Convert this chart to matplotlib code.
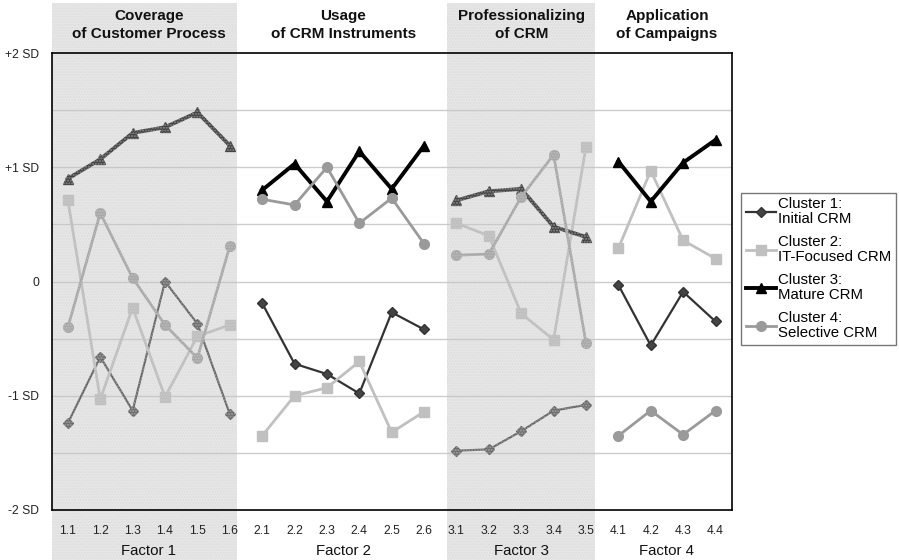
import matplotlib
matplotlib.use("Agg")
import matplotlib.pyplot as plt
import matplotlib.transforms as mtransforms
from matplotlib.patches import Rectangle
import numpy as np

plt.rcParams['font.family'] = ['Liberation Sans', 'DejaVu Sans']

# Items of the four CRM factors
factor_items = [
    ["1.1", "1.2", "1.3", "1.4", "1.5", "1.6"],
    ["2.1", "2.2", "2.3", "2.4", "2.5", "2.6"],
    ["3.1", "3.2", "3.3", "3.4", "3.5"],
    ["4.1", "4.2", "4.3", "4.4"],
]
factor_names = ["Factor 1", "Factor 2", "Factor 3", "Factor 4"]
factor_titles = ["Coverage\nof Customer Process", "Usage\nof CRM Instruments",
                 "Professionalizing\nof CRM", "Application\nof Campaigns"]

# Standardised cluster means (in SD units), one value per item
cluster1 = [-1.24, -0.66, -1.13, 0.00, -0.37, -1.16,
            -0.19, -0.72, -0.81, -0.98, -0.27, -0.42,
            -1.48, -1.47, -1.31, -1.13, -1.08,
            -0.03, -0.56, -0.09, -0.35]
cluster2 = [0.71, -1.03, -0.23, -1.01, -0.48, -0.38,
            -1.35, -1.00, -0.93, -0.70, -1.32, -1.14,
            0.51, 0.40, -0.28, -0.51, 1.18,
            0.29, 0.97, 0.36, 0.20]
cluster3 = [0.90, 1.07, 1.30, 1.35, 1.48, 1.19,
            0.80, 1.03, 0.70, 1.14, 0.81, 1.19,
            0.71, 0.79, 0.81, 0.48, 0.39,
            1.05, 0.70, 1.04, 1.24]
cluster4 = [-0.40, 0.60, 0.03, -0.38, -0.67, 0.31,
            0.72, 0.67, 1.00, 0.51, 0.73, 0.33,
            0.23, 0.24, 0.74, 1.11, -0.54,
            -1.35, -1.13, -1.34, -1.13]

clusters = [
    ("Cluster 1:\nInitial CRM", cluster1, dict(color="#333333", lw=1.6, marker="D", ms=5, mfc="#444444", mec="#333333")),
    ("Cluster 2:\nIT-Focused CRM", cluster2, dict(color="#c0c0c0", lw=2.0, marker="s", ms=6.5, mfc="#c0c0c0", mec="#c0c0c0")),
    ("Cluster 3:\nMature CRM", cluster3, dict(color="#000000", lw=2.8, marker="^", ms=7, mfc="#000000", mec="#000000")),
    ("Cluster 4:\nSelective CRM", cluster4, dict(color="#9a9a9a", lw=2.0, marker="o", ms=7, mfc="#9a9a9a", mec="#9a9a9a")),
]

W, H = 899, 560
fig = plt.figure(figsize=(W / 100, H / 100), dpi=100)
ax = fig.add_axes([51.7 / W, 1 - 510 / H, 680 / W, 457 / H])

labels = [it for grp in factor_items for it in grp]
n = len(labels)
ax.set_xlim(-0.5, n - 0.5)
ax.set_ylim(-2, 2)

# light horizontal grid at every half SD
for yv in np.arange(-1.5, 1.51, 0.5):
    ax.axhline(yv, color="#cccccc", lw=1.0, zorder=1)

# one broken polyline per factor for each cluster
starts = np.cumsum([0] + [len(g) for g in factor_items])
for name, vals, style in clusters:
    for k in range(len(factor_items)):
        idx = np.arange(starts[k], starts[k + 1])
        ax.plot(idx, np.asarray(vals)[idx], zorder=3, clip_on=False,
                label=name if k == 0 else None, **style)

ax.set_xticks(range(n))
ax.set_xticklabels(labels, fontsize=8.7, color="#222222")
ax.set_yticks([-2, -1, 0, 1, 2])
ax.set_yticklabels(["-2 SD", "-1 SD", "0", "+1 SD", "+2 SD"], fontsize=8.7, color="#222222")
ax.tick_params(axis="x", length=0, pad=11)
ax.tick_params(axis="y", length=0, pad=9)
for sp in ax.spines.values():
    sp.set_color("black")
    sp.set_linewidth(1.2)
    sp.set_zorder(6)
ax.xaxis.set_zorder(6)
ax.yaxis.set_zorder(6)

# shaded bands behind factors 1 and 3, spanning the full figure height
band_tr = mtransforms.blended_transform_factory(ax.transData, fig.transFigure)
for x0, x1 in [(-0.5, 5.21), (11.7, 16.28)]:
    ax.add_patch(Rectangle((x0, 0), x1 - x0, 1 - 3 / H, transform=band_tr,
                           facecolor="#bdbdbd", alpha=0.35, lw=0,
                           zorder=4, clip_on=False))
    ax.add_patch(Rectangle((x0, 0), x1 - x0, 1 - 3 / H, transform=band_tr,
                           facecolor="none", edgecolor="#d4d4d4", hatch="......",
                           lw=0, alpha=0.5, zorder=4, clip_on=False))

# factor titles above and factor names below
def xfig(xd):
    return ax.transData.transform((xd, 0))[0] / W

for k in range(len(factor_items)):
    xc = (starts[k] + starts[k + 1] - 1) / 2
    fig.text(xfig(xc), 1 - 25 / H, factor_titles[k], ha="center", va="center",
             fontsize=11, fontweight="bold", linespacing=1.3, color="#111111")
    fig.text(xfig(xc), 1 - 551 / H, factor_names[k], ha="center", va="center",
             fontsize=10.8, color="#111111")

leg = fig.legend(loc="upper left", bbox_to_anchor=(741 / W, 1 - 193 / H),
                 borderaxespad=0, frameon=True, fancybox=False, edgecolor="#555555",
                 fontsize=10.8, handlelength=2.0, handletextpad=0.15,
                 borderpad=0.3, labelspacing=0.6)
leg.get_frame().set_linewidth(1.0)
for t in leg.get_texts():
    t.set_linespacing(1.08)

fig.savefig("out.png", dpi=100)
